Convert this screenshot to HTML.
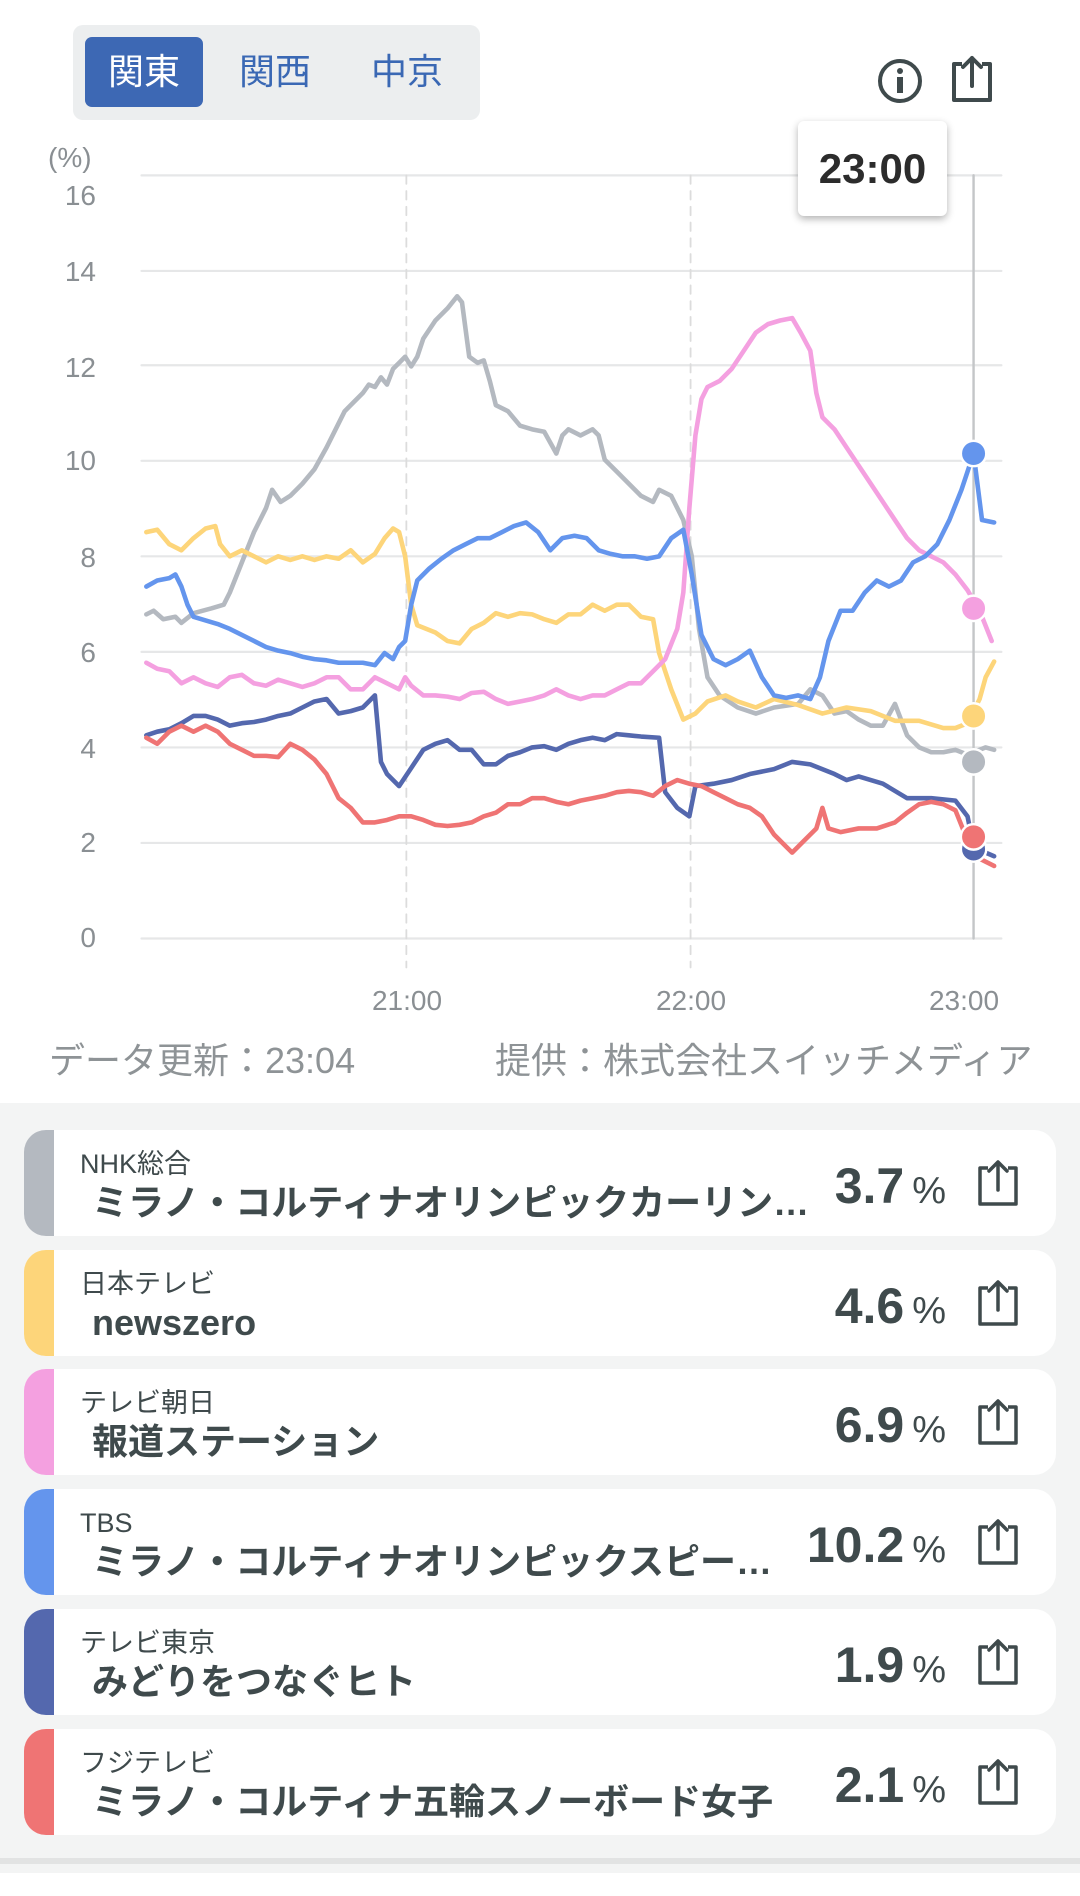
<!DOCTYPE html>
<html><head><meta charset="utf-8">
<style>
*{box-sizing:border-box;margin:0;padding:0}
body{width:1080px;height:1896px;background:#fff;position:relative;overflow:hidden;font-family:"Liberation Sans","Noto Sans CJK JP",sans-serif;color:#3f4a4c}
.abs{position:absolute}
.tog{left:73px;top:25px;width:407px;height:95px;background:#eceeef;border-radius:10px}
.tb{position:absolute;top:12px;height:70px;width:118px;border-radius:7px;font-size:36px;line-height:70px;text-align:center;color:#3a68b4}
.ylab{position:absolute;left:40px;width:56px;text-align:right;font-size:28px;line-height:32px;color:#8a8f93}
.xl{position:absolute;top:985px;font-size:28px;line-height:32px;color:#8a8f93;width:120px;text-align:center}
.foot{position:absolute;top:1040px;font-size:36px;line-height:42px;color:#8e9396;white-space:nowrap}
.bot{left:0;top:1103px;width:1080px;height:770px;background:#f3f4f4}
.card{position:absolute;left:24px;width:1032px;height:106px;background:#fff;border-radius:22px;overflow:hidden}
.bar{position:absolute;left:0;top:0;width:30px;height:106px}
.ch{position:absolute;left:56px;top:18px;font-size:27px;line-height:32px;color:#3f4a4c}
.pg{position:absolute;left:68px;top:53px;font-size:36px;line-height:40px;font-weight:bold;color:#3f4a4c;white-space:nowrap}
.val{position:absolute;right:110px;top:28px;font-size:50px;line-height:56px;font-weight:bold;color:#3f4a4c;white-space:nowrap}
.val span{font-size:38px;font-weight:normal;margin-left:8px}
.sh{position:absolute;right:34px;top:28px}
</style></head><body>
<div class="abs tog">
 <div class="tb" style="left:12px;background:#3d68b4;color:#fff">関東</div>
 <div class="tb" style="left:143px">関西</div>
 <div class="tb" style="left:275px">中京</div>
</div>
<svg class="abs" style="left:876px;top:57px" width="48" height="48" viewBox="0 0 48 48"><circle cx="24" cy="24" r="20" fill="none" stroke="#3f4a4c" stroke-width="4"/><circle cx="24" cy="14" r="3" fill="#3f4a4c"/><rect x="21" y="20" width="6" height="16" fill="#3f4a4c"/></svg>
<svg class="abs" style="left:948px;top:54px" width="48" height="50" viewBox="0 0 48 50"><path d="M14 10H6V46H42V10H34" fill="none" stroke="#3f4a4c" stroke-width="4" stroke-linejoin="round"/><path d="M24 32V4M15 13L24 4L33 13" fill="none" stroke="#3f4a4c" stroke-width="4" stroke-linejoin="round" stroke-linecap="round"/></svg>

<div class="ylab" style="top:142px;left:48px;width:60px;text-align:left">(%)</div>
<div class="ylab" style="top:180px">16</div>
<div class="ylab" style="top:256px">14</div>
<div class="ylab" style="top:352px">12</div>
<div class="ylab" style="top:445px">10</div>
<div class="ylab" style="top:542px">8</div>
<div class="ylab" style="top:637px">6</div>
<div class="ylab" style="top:733px">4</div>
<div class="ylab" style="top:827px">2</div>
<div class="ylab" style="top:922px">0</div>

<svg class="abs" style="left:0;top:0" width="1080" height="1100" viewBox="0 0 1080 1100">
<g transform="scale(1.2094,1.2094)" fill="none" stroke-linejoin="round" stroke-linecap="round">
 <g stroke="#e6e7e8" stroke-width="1.8">
  <line x1="117" y1="145" x2="828" y2="145"/><line x1="117" y1="224" x2="828" y2="224"/>
  <line x1="117" y1="302" x2="828" y2="302"/><line x1="117" y1="381" x2="828" y2="381"/>
  <line x1="117" y1="460" x2="828" y2="460"/><line x1="117" y1="539" x2="828" y2="539"/>
  <line x1="117" y1="618" x2="828" y2="618"/><line x1="117" y1="697" x2="828" y2="697"/>
  <line x1="117" y1="776" x2="828" y2="776"/>
 </g>
 <g stroke="#dcdcdc" stroke-width="1.5" stroke-dasharray="7,6">
  <line x1="336" y1="145" x2="336" y2="800"/><line x1="571" y1="145" x2="571" y2="800"/>
 </g>
 <line x1="805" y1="145" x2="805" y2="776" stroke="#c4c6c8" stroke-width="2"/>
 <g stroke-width="3.8">
 <polyline stroke="#b4b9c0" points="121,508 127,505 135,512 145,510 150,515 160,507 175,503 185,500 190,490 200,465 210,440 220,420 225,405 232,415 240,410 250,400 260,388 270,370 280,350 285,340 290,335 300,325 305,318 310,320 315,312 320,318 325,305 330,300 335,295 340,303 345,295 350,280 360,265 370,255 378,245 382,250 388,295 395,300 400,298 405,315 410,335 420,340 430,352 440,355 450,357 460,375 465,360 470,355 480,360 490,355 495,360 500,380 510,390 520,400 530,410 540,415 545,405 555,410 565,430 572,460 578,520 585,560 595,575 610,585 625,590 640,585 660,582 670,570 680,575 690,590 700,588 710,595 720,600 730,600 740,582 750,608 760,618 770,622 780,622 790,620 800,624 815,618 822,620"/>
 <polyline stroke="#fdd57a" points="121,440 130,438 140,450 150,455 160,445 170,437 178,435 182,450 190,460 200,455 210,460 220,465 230,460 240,463 250,460 260,463 270,460 280,462 290,455 300,465 310,458 318,445 325,437 330,440 335,460 340,500 345,517 360,523 370,530 380,532 390,520 400,515 410,507 420,510 430,507 440,508 450,512 460,515 470,508 480,508 490,500 500,505 510,500 520,500 530,510 540,512 545,540 555,570 565,595 575,590 585,580 600,575 610,580 625,585 640,578 660,583 680,590 700,585 720,588 740,596 760,596 780,602 790,602 800,598 810,578 815,560 822,547"/>
 <polyline stroke="#f4a0e0" points="121,548 130,553 140,555 150,565 160,560 170,565 180,568 190,560 200,558 210,565 220,567 230,562 240,565 250,568 260,565 270,560 280,560 290,570 300,570 310,560 320,565 330,570 335,560 340,567 350,575 360,575 370,576 380,578 390,573 400,572 410,578 420,582 430,580 440,578 450,575 460,570 470,575 480,578 490,575 500,575 510,570 520,565 530,565 540,555 550,545 560,520 565,490 570,420 575,360 580,330 585,320 595,315 605,305 615,290 625,275 635,268 645,265 655,263 662,275 670,290 675,325 680,345 690,355 700,370 710,385 720,400 730,415 740,430 750,445 760,455 770,460 780,465 790,475 800,488 810,505 820,530"/>
 <polyline stroke="#6495ed" points="121,485 130,480 140,478 145,475 150,485 155,500 160,510 170,513 180,516 190,520 200,525 210,530 220,535 230,538 240,540 250,543 260,545 270,546 280,548 290,548 300,548 310,550 318,540 325,545 330,535 335,530 340,500 345,480 355,470 365,462 375,455 385,450 395,445 405,445 415,440 425,435 435,432 445,440 455,455 465,445 475,443 485,445 495,455 505,458 515,460 525,460 535,462 545,460 555,445 565,438 572,475 580,525 590,545 600,550 610,545 620,538 630,560 640,575 650,577 660,575 670,578 678,560 685,530 695,505 705,505 715,490 725,480 735,485 745,480 755,465 765,460 775,450 785,430 795,405 805,375 812,430 822,432"/>
 <polyline stroke="#5468ae" points="121,608 130,605 140,603 150,598 160,592 170,592 180,595 190,600 200,598 210,597 220,595 230,592 240,590 250,585 260,580 270,578 280,590 290,588 300,585 310,575 315,630 320,640 330,650 340,635 350,620 360,615 370,612 380,620 390,620 400,632 410,632 420,625 430,622 440,618 450,617 460,620 470,615 480,612 490,610 500,612 510,607 520,608 530,609 545,610 550,655 560,668 570,675 575,650 590,648 605,645 620,640 640,636 655,630 670,632 690,640 700,645 710,642 730,648 750,660 770,660 790,662 800,675 805,700 815,705 822,708"/>
 <polyline stroke="#ef7474" points="121,610 130,615 140,605 150,600 160,605 170,600 180,605 190,615 200,620 210,625 220,625 230,626 240,615 250,620 260,628 270,640 280,660 290,668 300,680 310,680 320,678 330,675 340,675 350,678 360,682 370,683 380,682 390,680 400,675 410,672 420,665 430,665 440,660 450,660 460,663 470,665 480,662 490,660 500,658 510,655 520,654 530,655 540,658 550,650 560,645 570,648 580,650 590,655 600,660 610,665 620,668 630,675 640,690 650,700 655,705 665,695 675,685 680,668 685,685 695,688 710,685 725,685 740,680 750,672 760,665 770,663 780,665 790,670 800,695 810,710 822,716"/>
 </g>
 <g stroke="#fff" stroke-width="2">
  <circle cx="805" cy="702" r="10.5" fill="#5468ae"/>
  <circle cx="805" cy="692" r="10.5" fill="#ef7474"/>
  <circle cx="805" cy="630" r="10.5" fill="#b4b9c0"/>
  <circle cx="805" cy="592" r="10.5" fill="#fdd57a"/>
  <circle cx="805" cy="503" r="10.5" fill="#f4a0e0"/>
  <circle cx="805" cy="375" r="10.5" fill="#6495ed"/>
 </g>
</g>
</svg>
<div class="abs" style="left:798px;top:121px;width:149px;height:95px;background:#fff;border-radius:6px;box-shadow:0 3px 8px rgba(0,0,0,0.3);font-size:42px;font-weight:bold;color:#2c2c2c;text-align:center;line-height:95px">23:00</div>

<div class="xl" style="left:347px">21:00</div>
<div class="xl" style="left:631px">22:00</div>
<div class="xl" style="left:904px">23:00</div>
<div class="foot" style="left:49px">データ更新：23:04</div>
<div class="foot" style="left:495px">提供：株式会社スイッチメディア</div>

<div class="abs bot">
 <div class="card" style="top:27px"><div class="bar" style="background:#b4b9c0"></div><div class="ch">NHK総合</div><div class="pg">ミラノ・コルティナオリンピックカーリン…</div><div class="val">3.7<span>%</span></div>
 <svg class="sh" width="48" height="50" viewBox="0 0 48 50"><path d="M14 10H6V46H42V10H34" fill="none" stroke="#3f4a4c" stroke-width="3.5" stroke-linejoin="round"/><path d="M24 32V4M15 13L24 4L33 13" fill="none" stroke="#3f4a4c" stroke-width="3.5" stroke-linejoin="round" stroke-linecap="round"/></svg></div>
 <div class="card" style="top:147px"><div class="bar" style="background:#fdd57a"></div><div class="ch">日本テレビ</div><div class="pg">newszero</div><div class="val">4.6<span>%</span></div>
 <svg class="sh" width="48" height="50" viewBox="0 0 48 50"><path d="M14 10H6V46H42V10H34" fill="none" stroke="#3f4a4c" stroke-width="3.5" stroke-linejoin="round"/><path d="M24 32V4M15 13L24 4L33 13" fill="none" stroke="#3f4a4c" stroke-width="3.5" stroke-linejoin="round" stroke-linecap="round"/></svg></div>
 <div class="card" style="top:266px"><div class="bar" style="background:#f4a0e0"></div><div class="ch">テレビ朝日</div><div class="pg">報道ステーション</div><div class="val">6.9<span>%</span></div>
 <svg class="sh" width="48" height="50" viewBox="0 0 48 50"><path d="M14 10H6V46H42V10H34" fill="none" stroke="#3f4a4c" stroke-width="3.5" stroke-linejoin="round"/><path d="M24 32V4M15 13L24 4L33 13" fill="none" stroke="#3f4a4c" stroke-width="3.5" stroke-linejoin="round" stroke-linecap="round"/></svg></div>
 <div class="card" style="top:386px"><div class="bar" style="background:#6495ed"></div><div class="ch">TBS</div><div class="pg">ミラノ・コルティナオリンピックスピー…</div><div class="val">10.2<span>%</span></div>
 <svg class="sh" width="48" height="50" viewBox="0 0 48 50"><path d="M14 10H6V46H42V10H34" fill="none" stroke="#3f4a4c" stroke-width="3.5" stroke-linejoin="round"/><path d="M24 32V4M15 13L24 4L33 13" fill="none" stroke="#3f4a4c" stroke-width="3.5" stroke-linejoin="round" stroke-linecap="round"/></svg></div>
 <div class="card" style="top:506px"><div class="bar" style="background:#5468ae"></div><div class="ch">テレビ東京</div><div class="pg">みどりをつなぐヒト</div><div class="val">1.9<span>%</span></div>
 <svg class="sh" width="48" height="50" viewBox="0 0 48 50"><path d="M14 10H6V46H42V10H34" fill="none" stroke="#3f4a4c" stroke-width="3.5" stroke-linejoin="round"/><path d="M24 32V4M15 13L24 4L33 13" fill="none" stroke="#3f4a4c" stroke-width="3.5" stroke-linejoin="round" stroke-linecap="round"/></svg></div>
 <div class="card" style="top:626px"><div class="bar" style="background:#ef7474"></div><div class="ch">フジテレビ</div><div class="pg">ミラノ・コルティナ五輪スノーボード女子</div><div class="val">2.1<span>%</span></div>
 <svg class="sh" width="48" height="50" viewBox="0 0 48 50"><path d="M14 10H6V46H42V10H34" fill="none" stroke="#3f4a4c" stroke-width="3.5" stroke-linejoin="round"/><path d="M24 32V4M15 13L24 4L33 13" fill="none" stroke="#3f4a4c" stroke-width="3.5" stroke-linejoin="round" stroke-linecap="round"/></svg></div>
</div>
<div class="abs" style="left:0;top:1858px;width:1080px;height:6px;background:#e2e3e3"></div>
</body></html>
